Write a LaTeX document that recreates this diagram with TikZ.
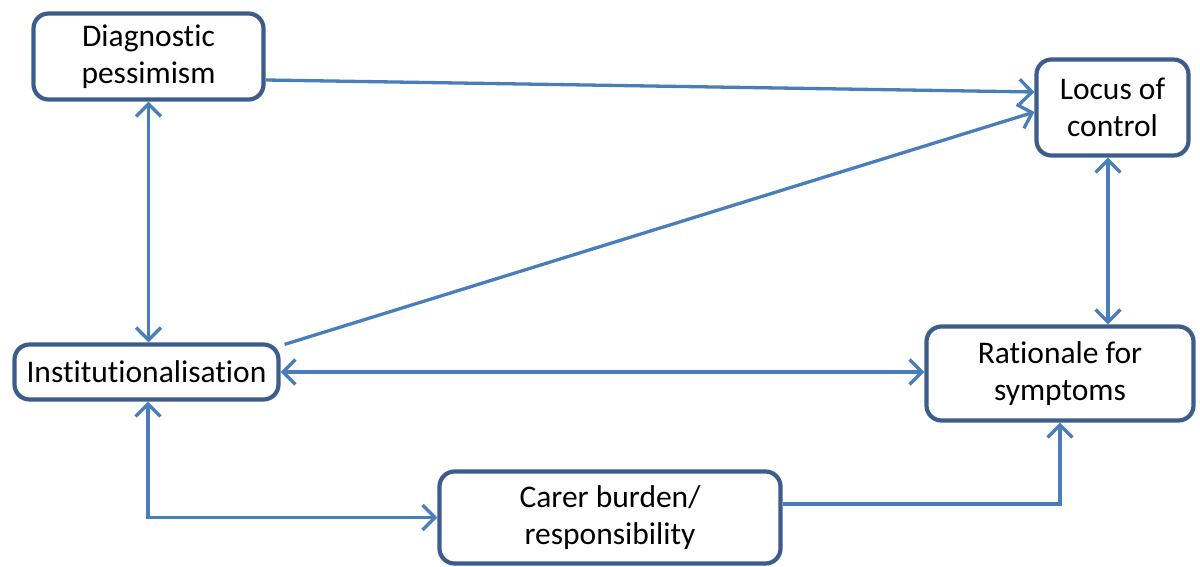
\documentclass[tikz,border=0pt]{standalone}
\usepackage{fontspec}
\setmainfont{Carlito}[Ligatures=NoCommon]
\usetikzlibrary{arrows.meta,calc}
\definecolor{boxedge}{HTML}{3C5D8C}
\definecolor{linkblue}{HTML}{4A7EBB}
\tikzset{
  factor/.style={draw=boxedge, line width=4.2pt, rounded corners=15pt, fill=white,
    align=center, inner sep=0pt, font=\fontsize{31.5}{37.5}\selectfont},
  link/.style={draw=linkblue, line width=3.3pt},
  tip/.tip={Straight Barb[length=12.5pt, width=25pt, line width=3.3pt]},
}
\begin{document}
\begin{tikzpicture}[x=1pt, y=-1pt]
\useasboundingbox (0,0) rectangle (1200,567);

% factors
\node[factor, minimum width=230pt, minimum height=86pt] (diag) at (148.5,56.5) {Diagnostic\\pessimism};
\node[factor, minimum width=152pt, minimum height=96pt] (locus) at (1112.5,107.5) {Locus of\\control};
\node[factor, minimum width=264pt, minimum height=55pt] (inst) at (146.5,372) {Institutionalisation};
\node[factor, minimum width=267pt, minimum height=94pt] (rat) at (1060,373.5) {Rationale for\\symptoms};
\node[factor, minimum width=341pt, minimum height=92pt] (carer) at (610,517.5) {Carer burden/\\responsibility};

% links between factors
\draw[link, -tip] ([yshift=-23.5pt]diag.east) -- ([yshift=15.5pt]locus.west);
\draw[link, -tip] ([xshift=4pt,yshift=-2pt]inst.north east) -- ([yshift=-4.5pt]locus.west);
\draw[link, tip-tip] (diag.south) -- (diag.south |- inst.north);
\draw[link, tip-tip] (inst.east) -- (rat.west |- inst.east);
\draw[link, tip-tip] ([xshift=-4.5pt]locus.south) -- ([xshift=-4.5pt]locus.south |- rat.north);
\draw[link, tip-tip] ([xshift=1.5pt]inst.south) |- (carer.west);
\draw[link, -tip] ([yshift=13.5pt]carer.east) -| (rat.south);
\end{tikzpicture}
\end{document}
